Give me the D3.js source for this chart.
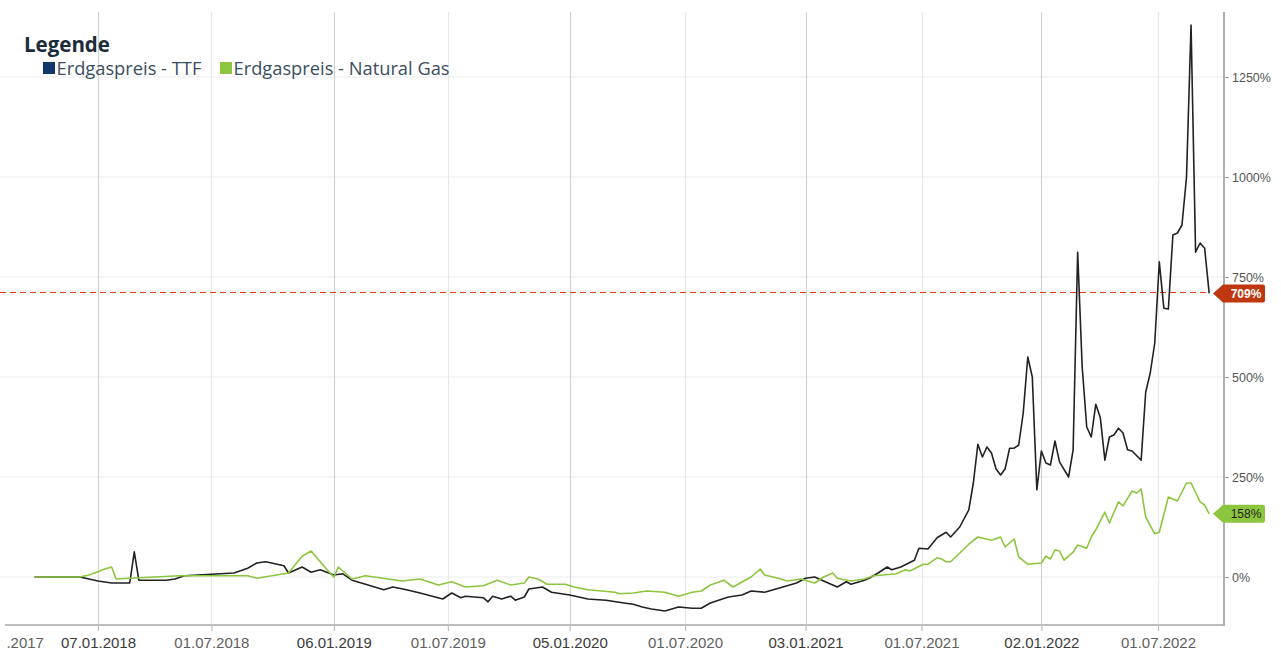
<!DOCTYPE html>
<html>
<head>
<meta charset="utf-8">
<script src="https://cdn.jsdelivr.net/npm/d3@7"></script>
<style>
  body { margin: 0; background: #fff; }
  svg { display: block; font-family: "Liberation Sans", Arial, sans-serif; }
</style>
</head>
<body>
<svg id="chart" width="1281" height="651"></svg>
<script>
// weekly series, [week since start, % change]
const startDate = new Date(2017, 9, 1);

const ttf = [
  [0, 0], [10, 0], [12, -5], [14, -10], [17, -15], [19, -15], [21, -15], [22, 63], [23, -8],
  [29, -8], [31, -5], [33, 3], [36, 5], [44, 10], [47, 22], [49, 35], [51, 38], [55, 28],
  [56, 10], [59, 25], [61, 12], [63, 18], [66, 5], [68, 8], [70, -8], [73, -18], [77, -32],
  [79, -25], [82, -32], [85, -40], [90, -55], [92, -40], [94, -52], [95, -48], [99, -52],
  [100, -62], [101, -48], [103, -55], [105, -48], [106, -58], [108, -50], [109, -30],
  [112, -25], [114, -38], [118, -45], [122, -55], [126, -58], [130, -65], [132, -68],
  [134, -75], [136, -80], [139, -85], [142, -75], [145, -78], [147, -78], [149, -65],
  [153, -50], [156, -45], [158, -35], [161, -38], [165, -25], [168, -15], [170, -3],
  [172, 0], [175, -15], [177, -25], [179, -12], [180, -18], [183, -8], [184, -3], [186, 10],
  [188, 25], [189, 18], [191, 25], [194, 42], [195, 72], [197, 70], [199, 98], [201, 112],
  [202, 100], [204, 125], [206, 168], [207, 235], [208, 332], [209, 300], [210, 325],
  [211, 310], [212, 270], [213, 255], [214, 270], [215, 322], [216, 322], [217, 330],
  [218, 410], [219, 550], [220, 500], [221, 218], [222, 315], [223, 285], [224, 280],
  [225, 340], [226, 288], [228, 250], [229, 318], [230, 812], [231, 525], [232, 375],
  [233, 350], [234, 432], [235, 398], [236, 292], [237, 350], [238, 355], [239, 372],
  [240, 360], [241, 318], [242, 315], [244, 292], [245, 462], [246, 510], [247, 585],
  [248, 788], [249, 672], [250, 670], [251, 855], [252, 860], [253, 880], [254, 1000],
  [255, 1380], [256, 812], [257, 835], [258, 822], [259, 709]
];

const naturalGas = [
  [0, 0], [10, 0], [12, 5], [14, 13], [15, 18], [17, 25], [18, -5], [21, -3], [32, 3],
  [40, 3], [47, 3], [49, -3], [56, 10], [59, 52], [61, 65], [63, 38], [65, 12], [66, 0],
  [67, 25], [70, -5], [73, 3], [81, -10], [85, -5], [89, -20], [92, -12], [95, -25],
  [99, -22], [102, -8], [105, -20], [108, -15], [109, 0], [111, -5], [113, -18], [117, -18],
  [119, -25], [122, -32], [125, -35], [128, -38], [129, -42], [132, -40], [135, -35],
  [139, -38], [142, -48], [145, -38], [147, -35], [149, -20], [152, -8], [154, -25],
  [158, 0], [160, 20], [161, 5], [164, -3], [166, -10], [169, -5], [172, -15], [174, 0],
  [176, 10], [177, -3], [180, -10], [183, -5], [185, 3], [187, 5], [190, 8], [192, 18],
  [193, 15], [196, 32], [197, 32], [199, 48], [200, 45], [201, 38], [202, 38], [204, 60],
  [206, 82], [208, 100], [211, 92], [213, 100], [214, 75], [216, 95], [217, 50], [219, 32],
  [222, 35], [223, 52], [224, 45], [225, 68], [226, 65], [227, 42], [229, 62], [230, 80],
  [232, 72], [233, 100], [234, 118], [236, 162], [237, 135], [239, 188], [240, 178],
  [242, 215], [243, 210], [244, 220], [245, 150], [247, 108], [248, 112], [250, 200],
  [252, 190], [254, 235], [255, 235], [257, 188], [258, 180], [259, 158]
];

const xTickLabels = ["01.07.2017", "07.01.2018", "01.07.2018", "06.01.2019", "01.07.2019",
  "05.01.2020", "01.07.2020", "03.01.2021", "01.07.2021", "02.01.2022", "01.07.2022"];
const yTickValues = [0, 250, 500, 750, 1000, 1250];
const seriesNames = ["Erdgaspreis - TTF", "Erdgaspreis - Natural Gas"];
const seriesColors = ["#12386b", "#8cc63f"];

const svg = d3.select("#chart");
const plotLeft = 5, plotRight = 1224, plotTop = 12, plotBottom = 625;
const parseDay = d3.timeParse("%d.%m.%Y");
const toDate = w => d3.timeDay.offset(startDate, w * 7);

const x = d3.scaleTime()
  .domain([parseDay("07.01.2018"), parseDay("01.07.2022")])
  .range([98, 1158]);
const y = d3.scaleLinear().domain([-120, 1412.5]).range([plotBottom, plotTop]);

const tickDates = xTickLabels.map(parseDay);
const isYearTick = s => s.slice(3, 5) === "01";
const lastTtf = ttf[ttf.length - 1];
const lastGas = naturalGas[naturalGas.length - 1];

// labels left of the chart frame are cut off
svg.append("defs").append("clipPath")
  .attr("id", "labelClip")
  .append("rect")
  .attr("x", 7).attr("y", 0).attr("width", 1274).attr("height", 651);

// horizontal grid
svg.append("g")
  .selectAll("line")
  .data(yTickValues)
  .enter()
  .append("line")
  .attr("x1", 0).attr("x2", plotRight)
  .attr("y1", d => y(d)).attr("y2", d => y(d))
  .attr("stroke", "#ececec").attr("stroke-width", 1);

// vertical grid
svg.append("g")
  .selectAll("line")
  .data(xTickLabels)
  .enter()
  .append("line")
  .attr("x1", d => Math.round(x(parseDay(d))) + 0.5)
  .attr("x2", d => Math.round(x(parseDay(d))) + 0.5)
  .attr("y1", plotTop).attr("y2", plotBottom)
  .attr("stroke", d => isYearTick(d) ? "#d2d2d2" : "#e8e8e8")
  .attr("stroke-width", 1.2);

// marker line at last TTF value
const markerY = Math.round(y(lastTtf[1])) - 0.5;
svg.append("line")
  .attr("x1", 0).attr("x2", x(toDate(lastTtf[0])))
  .attr("y1", markerY).attr("y2", markerY)
  .attr("stroke", "#e23b1f").attr("stroke-width", 1)
  .attr("stroke-dasharray", "6,4");

const line = d3.line()
  .x(d => x(toDate(d[0])))
  .y(d => y(d[1]));

svg.append("path")
  .datum(ttf)
  .attr("d", line)
  .attr("fill", "none")
  .attr("stroke", "#222")
  .attr("stroke-width", 1.6)
  .attr("stroke-linejoin", "round");

svg.append("path")
  .datum(naturalGas)
  .attr("d", line)
  .attr("fill", "none")
  .attr("stroke", "#8cc63f")
  .attr("stroke-width", 1.6)
  .attr("stroke-linejoin", "round");

// bottom axis
svg.append("line")
  .attr("x1", plotLeft).attr("x2", plotRight)
  .attr("y1", plotBottom).attr("y2", plotBottom)
  .attr("stroke", "#bdbdbd").attr("stroke-width", 2);
const xAxis = svg.append("g")
  .attr("clip-path", "url(#labelClip)")
  .append("g")
  .attr("transform", "translate(0," + plotBottom + ")")
  .call(d3.axisBottom(x).tickValues(tickDates).tickSize(6).tickFormat(d3.timeFormat("%d.%m.%Y")));
xAxis.select(".domain").remove();
xAxis.selectAll(".tick line").attr("stroke", "#bdbdbd").attr("stroke-width", 1.2);
xAxis.selectAll(".tick text")
  .attr("y", 23)
  .attr("dy", 0)
  .attr("dx", (d, i) => i === 0 ? 31 : 0)
  .style("font-size", "15px")
  .attr("fill", (d, i) => isYearTick(xTickLabels[i]) ? "#3a3a3a" : "#5e5e5e");

// right axis
const yAxis = svg.append("g")
  .attr("transform", "translate(" + plotRight + ",0)")
  .call(d3.axisRight(y).tickValues(yTickValues).tickSize(5).tickFormat(d => d + "%"));
yAxis.select(".domain").remove();
yAxis.append("line")
  .attr("y1", plotTop).attr("y2", plotBottom + 1)
  .attr("stroke", "#b0b0b0").attr("stroke-width", 2);
yAxis.selectAll(".tick line").attr("stroke", "#999");
yAxis.selectAll(".tick text")
  .attr("x", 8)
  .style("font-size", "12.5px")
  .attr("fill", "#555");

// value badges
const badges = [
  { value: lastTtf[1], fill: "#bf360f", text: "#fff", weight: "bold" },
  { value: lastGas[1], fill: "#8cc63f", text: "#1c1c1c", weight: "normal" }
];
const badge = svg.append("g")
  .selectAll("g")
  .data(badges)
  .enter()
  .append("g")
  .attr("transform", d => "translate(1213," + y(d.value) + ")");
badge.append("path")
  .attr("d", "M0,0 L10,-9 L50,-9 Q52,-9 52,-7 L52,7 Q52,9 50,9 L10,9 Z")
  .attr("fill", d => d.fill);
badge.append("text")
  .attr("x", 33).attr("dy", "0.36em")
  .attr("text-anchor", "middle")
  .style("font-size", "12px")
  .style("font-weight", d => d.weight)
  .attr("fill", d => d.text)
  .text(d => d.value + "%");

// legend
const legend = svg.append("g").style("font-family", "'Open Sans', sans-serif");
legend.append("text")
  .attr("x", 24).attr("y", 52)
  .style("font-size", "20.5px").style("font-weight", "bold")
  .attr("fill", "#1c2b3a")
  .text("Legende");
const legendX = [43, 220];
const item = legend.selectAll(".item")
  .data(seriesNames)
  .enter()
  .append("g")
  .attr("class", "item")
  .attr("transform", (d, i) => "translate(" + legendX[i] + ",62)");
item.append("rect")
  .attr("width", 12).attr("height", 12)
  .attr("fill", (d, i) => seriesColors[i]);
item.append("text")
  .attr("x", 13.5).attr("y", 12.8)
  .style("font-size", "18.3px")
  .attr("fill", "#3b4d5f")
  .text(d => d);
</script>
</body>
</html>
